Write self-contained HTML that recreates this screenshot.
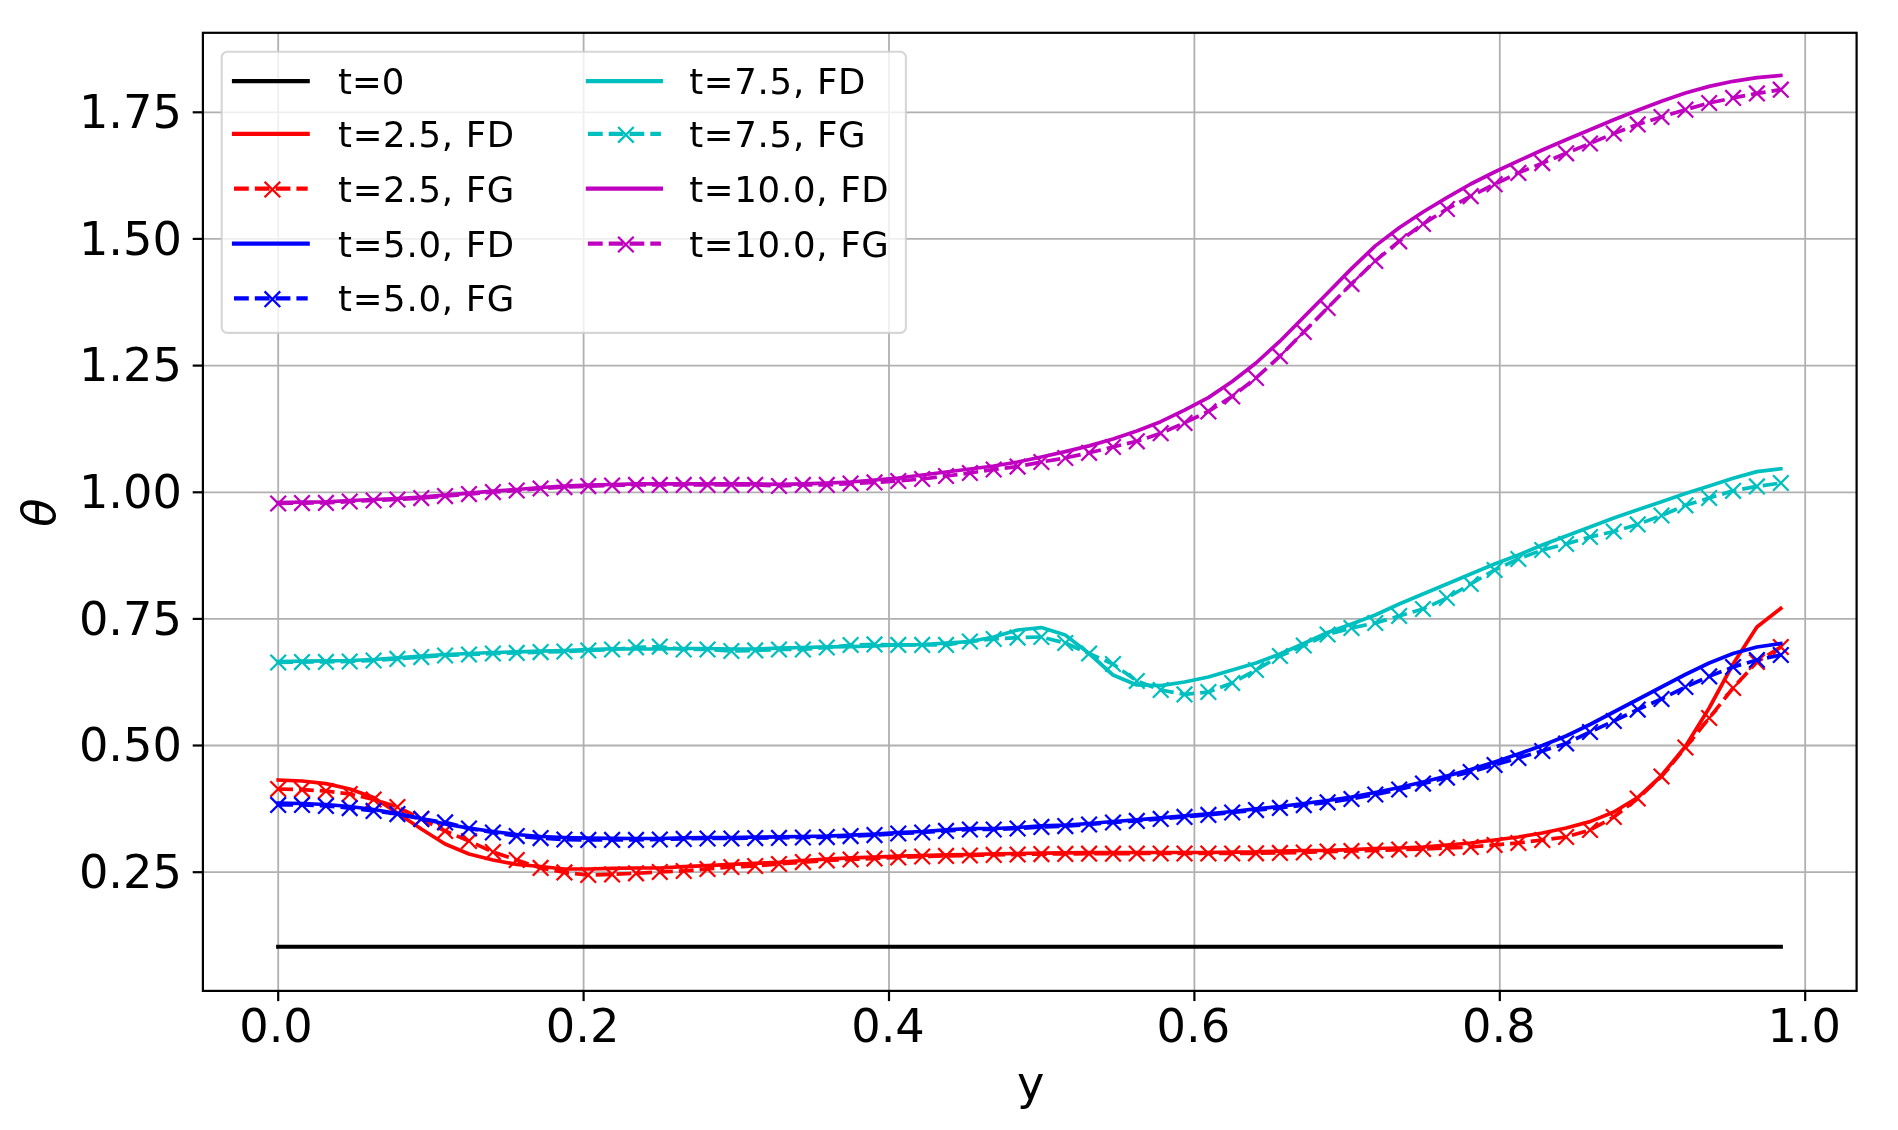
<!DOCTYPE html>
<html lang="en"><head><meta charset="utf-8"><title>theta vs y</title>
<style>html,body{margin:0;padding:0;background:#fff}svg{display:block;filter:blur(0.55px)}text{font-family:"DejaVu Sans", "Liberation Sans", sans-serif;fill:#000}</style></head><body>
<svg width="1898" height="1130" viewBox="0 0 1898 1130">
<rect width="1898" height="1130" fill="#fff"/>
<g stroke="#b0b0b0" stroke-width="1.8" fill="none">
<line x1="278.2" y1="32.8" x2="278.2" y2="990.9"/>
<line x1="583.6" y1="32.8" x2="583.6" y2="990.9"/>
<line x1="889.0" y1="32.8" x2="889.0" y2="990.9"/>
<line x1="1194.4" y1="32.8" x2="1194.4" y2="990.9"/>
<line x1="1499.8" y1="32.8" x2="1499.8" y2="990.9"/>
<line x1="1805.2" y1="32.8" x2="1805.2" y2="990.9"/>
<line x1="202.9" y1="112.3" x2="1856.6" y2="112.3"/>
<line x1="202.9" y1="238.9" x2="1856.6" y2="238.9"/>
<line x1="202.9" y1="365.6" x2="1856.6" y2="365.6"/>
<line x1="202.9" y1="492.3" x2="1856.6" y2="492.3"/>
<line x1="202.9" y1="618.9" x2="1856.6" y2="618.9"/>
<line x1="202.9" y1="745.5" x2="1856.6" y2="745.5"/>
<line x1="202.9" y1="872.2" x2="1856.6" y2="872.2"/>
</g>
<g stroke="#000" stroke-width="2.2" fill="none">
<line x1="278.2" y1="990.9" x2="278.2" y2="1001.1"/>
<line x1="583.6" y1="990.9" x2="583.6" y2="1001.1"/>
<line x1="889.0" y1="990.9" x2="889.0" y2="1001.1"/>
<line x1="1194.4" y1="990.9" x2="1194.4" y2="1001.1"/>
<line x1="1499.8" y1="990.9" x2="1499.8" y2="1001.1"/>
<line x1="1805.2" y1="990.9" x2="1805.2" y2="1001.1"/>
<line x1="192.7" y1="112.3" x2="202.9" y2="112.3"/>
<line x1="192.7" y1="238.9" x2="202.9" y2="238.9"/>
<line x1="192.7" y1="365.6" x2="202.9" y2="365.6"/>
<line x1="192.7" y1="492.3" x2="202.9" y2="492.3"/>
<line x1="192.7" y1="618.9" x2="202.9" y2="618.9"/>
<line x1="192.7" y1="745.5" x2="202.9" y2="745.5"/>
<line x1="192.7" y1="872.2" x2="202.9" y2="872.2"/>
</g>
<line x1="278.2" y1="946.75" x2="1780.8" y2="946.75" stroke="#000" stroke-width="4.2" stroke-linecap="square"/>
<polyline points="278.2,780.0 302.1,781.0 325.9,783.6 349.8,789.0 373.6,797.5 397.4,813.0 421.3,829.0 445.1,844.0 469.0,854.0 492.9,860.0 516.7,864.4 540.5,866.5 564.4,869.0 588.2,869.0 612.1,868.4 636.0,868.0 659.8,868.0 683.7,866.6 707.5,865.6 731.4,864.4 755.2,863.4 779.0,862.4 802.9,860.5 826.8,859.1 850.6,857.9 874.5,857.1 898.3,856.1 922.2,855.5 946.0,854.9 969.9,854.5 993.7,853.9 1017.5,853.5 1041.4,853.1 1065.2,852.9 1089.1,852.7 1113.0,852.7 1136.8,852.5 1160.7,852.5 1184.5,852.5 1208.4,852.5 1232.2,852.1 1256.0,851.9 1279.9,851.1 1303.8,850.5 1327.6,850.4 1351.5,849.6 1375.3,848.5 1399.2,848.0 1423.0,847.0 1446.9,845.0 1470.7,843.0 1494.6,840.0 1518.4,837.0 1542.3,833.0 1566.1,828.0 1590.0,821.6 1613.8,812.0 1637.7,797.5 1661.5,775.5 1685.4,746.5 1709.2,708.0 1733.1,664.0 1756.9,627.0 1780.8,608.4" fill="none" stroke="#f00" stroke-width="3.7" stroke-linecap="square" stroke-linejoin="round"/>
<polyline points="278.2,789.0 302.1,789.6 325.9,791.0 349.8,794.0 373.6,799.5 397.4,807.0 421.3,819.0 445.1,831.0 469.0,841.0 492.9,852.0 516.7,860.0 540.5,867.9 564.4,872.4 588.2,875.0 612.1,874.4 636.0,873.3 659.8,872.0 683.7,871.0 707.5,869.0 731.4,867.0 755.2,866.0 779.0,864.0 802.9,862.1 826.8,860.5 850.6,859.5 874.5,858.5 898.3,857.5 922.2,856.5 946.0,855.9 969.9,855.5 993.7,854.9 1017.5,854.5 1041.4,854.1 1065.2,853.9 1089.1,853.7 1113.0,853.7 1136.8,853.5 1160.7,853.5 1184.5,853.5 1208.4,853.5 1232.2,853.5 1256.0,853.3 1279.9,852.9 1303.8,852.5 1327.6,851.6 1351.5,851.0 1375.3,850.5 1399.2,849.6 1423.0,849.0 1446.9,848.0 1470.7,847.0 1494.6,845.0 1518.4,843.0 1542.3,840.0 1566.1,837.0 1590.0,830.0 1613.8,817.0 1637.7,798.5 1661.5,776.5 1685.4,747.5 1709.2,718.0 1733.1,688.0 1756.9,662.0 1780.8,647.0" fill="none" stroke="#f00" stroke-width="3.7" stroke-dasharray="14.8 6" stroke-linejoin="round"/>
<g stroke="#f00" stroke-width="2.3" fill="none"><path d="M270.4 781.2l15.6 15.6M270.4 796.8l15.6 -15.6"/><path d="M294.2 781.8l15.6 15.6M294.2 797.4l15.6 -15.6"/><path d="M318.1 783.2l15.6 15.6M318.1 798.8l15.6 -15.6"/><path d="M341.9 786.2l15.6 15.6M341.9 801.8l15.6 -15.6"/><path d="M365.8 791.7l15.6 15.6M365.8 807.3l15.6 -15.6"/><path d="M389.6 799.2l15.6 15.6M389.6 814.8l15.6 -15.6"/><path d="M413.5 811.2l15.6 15.6M413.5 826.8l15.6 -15.6"/><path d="M437.3 823.2l15.6 15.6M437.3 838.8l15.6 -15.6"/><path d="M461.2 833.2l15.6 15.6M461.2 848.8l15.6 -15.6"/><path d="M485.1 844.2l15.6 15.6M485.1 859.8l15.6 -15.6"/><path d="M508.9 852.2l15.6 15.6M508.9 867.8l15.6 -15.6"/><path d="M532.8 860.1l15.6 15.6M532.8 875.7l15.6 -15.6"/><path d="M556.6 864.6l15.6 15.6M556.6 880.2l15.6 -15.6"/><path d="M580.5 867.2l15.6 15.6M580.5 882.8l15.6 -15.6"/><path d="M604.3 866.6l15.6 15.6M604.3 882.2l15.6 -15.6"/><path d="M628.2 865.5l15.6 15.6M628.2 881.1l15.6 -15.6"/><path d="M652.0 864.2l15.6 15.6M652.0 879.8l15.6 -15.6"/><path d="M675.9 863.2l15.6 15.6M675.9 878.8l15.6 -15.6"/><path d="M699.7 861.2l15.6 15.6M699.7 876.8l15.6 -15.6"/><path d="M723.6 859.2l15.6 15.6M723.6 874.8l15.6 -15.6"/><path d="M747.4 858.2l15.6 15.6M747.4 873.8l15.6 -15.6"/><path d="M771.2 856.2l15.6 15.6M771.2 871.8l15.6 -15.6"/><path d="M795.1 854.3l15.6 15.6M795.1 869.9l15.6 -15.6"/><path d="M819.0 852.7l15.6 15.6M819.0 868.3l15.6 -15.6"/><path d="M842.8 851.7l15.6 15.6M842.8 867.3l15.6 -15.6"/><path d="M866.7 850.7l15.6 15.6M866.7 866.3l15.6 -15.6"/><path d="M890.5 849.7l15.6 15.6M890.5 865.3l15.6 -15.6"/><path d="M914.4 848.7l15.6 15.6M914.4 864.3l15.6 -15.6"/><path d="M938.2 848.1l15.6 15.6M938.2 863.7l15.6 -15.6"/><path d="M962.1 847.7l15.6 15.6M962.1 863.3l15.6 -15.6"/><path d="M985.9 847.1l15.6 15.6M985.9 862.7l15.6 -15.6"/><path d="M1009.8 846.7l15.6 15.6M1009.8 862.3l15.6 -15.6"/><path d="M1033.6 846.3l15.6 15.6M1033.6 861.9l15.6 -15.6"/><path d="M1057.5 846.1l15.6 15.6M1057.5 861.7l15.6 -15.6"/><path d="M1081.3 845.9l15.6 15.6M1081.3 861.5l15.6 -15.6"/><path d="M1105.2 845.9l15.6 15.6M1105.2 861.5l15.6 -15.6"/><path d="M1129.0 845.7l15.6 15.6M1129.0 861.3l15.6 -15.6"/><path d="M1152.9 845.7l15.6 15.6M1152.9 861.3l15.6 -15.6"/><path d="M1176.7 845.7l15.6 15.6M1176.7 861.3l15.6 -15.6"/><path d="M1200.6 845.7l15.6 15.6M1200.6 861.3l15.6 -15.6"/><path d="M1224.4 845.7l15.6 15.6M1224.4 861.3l15.6 -15.6"/><path d="M1248.2 845.5l15.6 15.6M1248.2 861.1l15.6 -15.6"/><path d="M1272.1 845.1l15.6 15.6M1272.1 860.7l15.6 -15.6"/><path d="M1296.0 844.7l15.6 15.6M1296.0 860.3l15.6 -15.6"/><path d="M1319.8 843.8l15.6 15.6M1319.8 859.4l15.6 -15.6"/><path d="M1343.7 843.2l15.6 15.6M1343.7 858.8l15.6 -15.6"/><path d="M1367.5 842.7l15.6 15.6M1367.5 858.3l15.6 -15.6"/><path d="M1391.4 841.8l15.6 15.6M1391.4 857.4l15.6 -15.6"/><path d="M1415.2 841.2l15.6 15.6M1415.2 856.8l15.6 -15.6"/><path d="M1439.1 840.2l15.6 15.6M1439.1 855.8l15.6 -15.6"/><path d="M1462.9 839.2l15.6 15.6M1462.9 854.8l15.6 -15.6"/><path d="M1486.8 837.2l15.6 15.6M1486.8 852.8l15.6 -15.6"/><path d="M1510.6 835.2l15.6 15.6M1510.6 850.8l15.6 -15.6"/><path d="M1534.5 832.2l15.6 15.6M1534.5 847.8l15.6 -15.6"/><path d="M1558.3 829.2l15.6 15.6M1558.3 844.8l15.6 -15.6"/><path d="M1582.2 822.2l15.6 15.6M1582.2 837.8l15.6 -15.6"/><path d="M1606.0 809.2l15.6 15.6M1606.0 824.8l15.6 -15.6"/><path d="M1629.9 790.7l15.6 15.6M1629.9 806.3l15.6 -15.6"/><path d="M1653.7 768.7l15.6 15.6M1653.7 784.3l15.6 -15.6"/><path d="M1677.6 739.7l15.6 15.6M1677.6 755.3l15.6 -15.6"/><path d="M1701.4 710.2l15.6 15.6M1701.4 725.8l15.6 -15.6"/><path d="M1725.3 680.2l15.6 15.6M1725.3 695.8l15.6 -15.6"/><path d="M1749.1 654.2l15.6 15.6M1749.1 669.8l15.6 -15.6"/><path d="M1773.0 639.2l15.6 15.6M1773.0 654.8l15.6 -15.6"/></g>
<polyline points="278.2,803.1 302.1,803.5 325.9,804.5 349.8,806.5 373.6,809.5 397.4,813.5 421.3,818.5 445.1,824.0 469.0,828.1 492.9,831.5 516.7,834.5 540.5,836.5 564.4,837.5 588.2,838.1 612.1,838.3 636.0,838.5 659.8,838.5 683.7,837.9 707.5,837.5 731.4,837.5 755.2,837.1 779.0,836.9 802.9,836.5 826.8,836.1 850.6,835.1 874.5,834.1 898.3,832.5 922.2,831.5 946.0,829.9 969.9,828.5 993.7,828.5 1017.5,827.5 1041.4,825.9 1065.2,825.1 1089.1,823.5 1113.0,821.5 1136.8,819.9 1160.7,817.9 1184.5,815.9 1208.4,813.9 1232.2,811.5 1256.0,808.9 1279.9,806.5 1303.8,803.5 1327.6,800.5 1351.5,797.0 1375.3,792.5 1399.2,787.5 1423.0,782.0 1446.9,776.0 1470.7,769.6 1494.6,762.0 1518.4,754.0 1542.3,745.5 1566.1,736.0 1590.0,724.5 1613.8,712.0 1637.7,699.5 1661.5,687.0 1685.4,674.5 1709.2,663.0 1733.1,653.5 1756.9,647.0 1780.8,643.5" fill="none" stroke="#00f" stroke-width="3.7" stroke-linecap="square" stroke-linejoin="round"/>
<polyline points="278.2,804.9 302.1,804.9 325.9,805.9 349.8,808.1 373.6,810.9 397.4,814.1 421.3,818.9 445.1,822.4 469.0,828.5 492.9,832.5 516.7,836.1 540.5,838.1 564.4,839.5 588.2,839.9 612.1,839.9 636.0,839.9 659.8,839.5 683.7,838.9 707.5,838.5 731.4,838.5 755.2,838.1 779.0,837.9 802.9,837.5 826.8,837.1 850.6,836.1 874.5,835.1 898.3,833.5 922.2,832.5 946.0,830.9 969.9,829.5 993.7,829.5 1017.5,828.5 1041.4,826.9 1065.2,826.1 1089.1,824.5 1113.0,822.5 1136.8,820.9 1160.7,818.9 1184.5,816.9 1208.4,814.9 1232.2,812.5 1256.0,810.1 1279.9,807.9 1303.8,805.1 1327.6,802.3 1351.5,799.0 1375.3,794.5 1399.2,789.5 1423.0,783.6 1446.9,777.6 1470.7,772.0 1494.6,765.0 1518.4,758.0 1542.3,751.0 1566.1,743.5 1590.0,732.0 1613.8,721.0 1637.7,709.6 1661.5,699.0 1685.4,687.0 1709.2,676.4 1733.1,667.0 1756.9,660.0 1780.8,655.0" fill="none" stroke="#00f" stroke-width="3.7" stroke-dasharray="14.8 6" stroke-linejoin="round"/>
<g stroke="#00f" stroke-width="2.3" fill="none"><path d="M270.4 797.1l15.6 15.6M270.4 812.7l15.6 -15.6"/><path d="M294.2 797.1l15.6 15.6M294.2 812.7l15.6 -15.6"/><path d="M318.1 798.1l15.6 15.6M318.1 813.7l15.6 -15.6"/><path d="M341.9 800.3l15.6 15.6M341.9 815.9l15.6 -15.6"/><path d="M365.8 803.1l15.6 15.6M365.8 818.7l15.6 -15.6"/><path d="M389.6 806.3l15.6 15.6M389.6 821.9l15.6 -15.6"/><path d="M413.5 811.1l15.6 15.6M413.5 826.7l15.6 -15.6"/><path d="M437.3 814.6l15.6 15.6M437.3 830.2l15.6 -15.6"/><path d="M461.2 820.7l15.6 15.6M461.2 836.3l15.6 -15.6"/><path d="M485.1 824.7l15.6 15.6M485.1 840.3l15.6 -15.6"/><path d="M508.9 828.3l15.6 15.6M508.9 843.9l15.6 -15.6"/><path d="M532.8 830.3l15.6 15.6M532.8 845.9l15.6 -15.6"/><path d="M556.6 831.7l15.6 15.6M556.6 847.3l15.6 -15.6"/><path d="M580.5 832.1l15.6 15.6M580.5 847.7l15.6 -15.6"/><path d="M604.3 832.1l15.6 15.6M604.3 847.7l15.6 -15.6"/><path d="M628.2 832.1l15.6 15.6M628.2 847.7l15.6 -15.6"/><path d="M652.0 831.7l15.6 15.6M652.0 847.3l15.6 -15.6"/><path d="M675.9 831.1l15.6 15.6M675.9 846.7l15.6 -15.6"/><path d="M699.7 830.7l15.6 15.6M699.7 846.3l15.6 -15.6"/><path d="M723.6 830.7l15.6 15.6M723.6 846.3l15.6 -15.6"/><path d="M747.4 830.3l15.6 15.6M747.4 845.9l15.6 -15.6"/><path d="M771.2 830.1l15.6 15.6M771.2 845.7l15.6 -15.6"/><path d="M795.1 829.7l15.6 15.6M795.1 845.3l15.6 -15.6"/><path d="M819.0 829.3l15.6 15.6M819.0 844.9l15.6 -15.6"/><path d="M842.8 828.3l15.6 15.6M842.8 843.9l15.6 -15.6"/><path d="M866.7 827.3l15.6 15.6M866.7 842.9l15.6 -15.6"/><path d="M890.5 825.7l15.6 15.6M890.5 841.3l15.6 -15.6"/><path d="M914.4 824.7l15.6 15.6M914.4 840.3l15.6 -15.6"/><path d="M938.2 823.1l15.6 15.6M938.2 838.7l15.6 -15.6"/><path d="M962.1 821.7l15.6 15.6M962.1 837.3l15.6 -15.6"/><path d="M985.9 821.7l15.6 15.6M985.9 837.3l15.6 -15.6"/><path d="M1009.8 820.7l15.6 15.6M1009.8 836.3l15.6 -15.6"/><path d="M1033.6 819.1l15.6 15.6M1033.6 834.7l15.6 -15.6"/><path d="M1057.5 818.3l15.6 15.6M1057.5 833.9l15.6 -15.6"/><path d="M1081.3 816.7l15.6 15.6M1081.3 832.3l15.6 -15.6"/><path d="M1105.2 814.7l15.6 15.6M1105.2 830.3l15.6 -15.6"/><path d="M1129.0 813.1l15.6 15.6M1129.0 828.7l15.6 -15.6"/><path d="M1152.9 811.1l15.6 15.6M1152.9 826.7l15.6 -15.6"/><path d="M1176.7 809.1l15.6 15.6M1176.7 824.7l15.6 -15.6"/><path d="M1200.6 807.1l15.6 15.6M1200.6 822.7l15.6 -15.6"/><path d="M1224.4 804.7l15.6 15.6M1224.4 820.3l15.6 -15.6"/><path d="M1248.2 802.3l15.6 15.6M1248.2 817.9l15.6 -15.6"/><path d="M1272.1 800.1l15.6 15.6M1272.1 815.7l15.6 -15.6"/><path d="M1296.0 797.3l15.6 15.6M1296.0 812.9l15.6 -15.6"/><path d="M1319.8 794.5l15.6 15.6M1319.8 810.1l15.6 -15.6"/><path d="M1343.7 791.2l15.6 15.6M1343.7 806.8l15.6 -15.6"/><path d="M1367.5 786.7l15.6 15.6M1367.5 802.3l15.6 -15.6"/><path d="M1391.4 781.7l15.6 15.6M1391.4 797.3l15.6 -15.6"/><path d="M1415.2 775.8l15.6 15.6M1415.2 791.4l15.6 -15.6"/><path d="M1439.1 769.8l15.6 15.6M1439.1 785.4l15.6 -15.6"/><path d="M1462.9 764.2l15.6 15.6M1462.9 779.8l15.6 -15.6"/><path d="M1486.8 757.2l15.6 15.6M1486.8 772.8l15.6 -15.6"/><path d="M1510.6 750.2l15.6 15.6M1510.6 765.8l15.6 -15.6"/><path d="M1534.5 743.2l15.6 15.6M1534.5 758.8l15.6 -15.6"/><path d="M1558.3 735.7l15.6 15.6M1558.3 751.3l15.6 -15.6"/><path d="M1582.2 724.2l15.6 15.6M1582.2 739.8l15.6 -15.6"/><path d="M1606.0 713.2l15.6 15.6M1606.0 728.8l15.6 -15.6"/><path d="M1629.9 701.8l15.6 15.6M1629.9 717.4l15.6 -15.6"/><path d="M1653.7 691.2l15.6 15.6M1653.7 706.8l15.6 -15.6"/><path d="M1677.6 679.2l15.6 15.6M1677.6 694.8l15.6 -15.6"/><path d="M1701.4 668.6l15.6 15.6M1701.4 684.2l15.6 -15.6"/><path d="M1725.3 659.2l15.6 15.6M1725.3 674.8l15.6 -15.6"/><path d="M1749.1 652.2l15.6 15.6M1749.1 667.8l15.6 -15.6"/><path d="M1773.0 647.2l15.6 15.6M1773.0 662.8l15.6 -15.6"/></g>
<polyline points="278.2,661.5 302.1,661.1 325.9,660.9 349.8,660.5 373.6,659.5 397.4,657.9 421.3,656.1 445.1,654.5 469.0,653.5 492.9,652.5 516.7,651.9 540.5,651.1 564.4,650.5 588.2,649.5 612.1,648.9 636.0,649.0 659.8,649.0 683.7,648.5 707.5,648.5 731.4,649.0 755.2,649.0 779.0,648.1 802.9,647.5 826.8,646.9 850.6,646.6 874.5,646.0 898.3,644.9 922.2,644.5 946.0,643.1 969.9,641.5 993.7,637.0 1017.5,630.0 1041.4,627.6 1065.2,635.0 1089.1,653.5 1113.0,675.0 1136.8,685.0 1160.7,685.6 1184.5,682.0 1208.4,677.0 1232.2,670.0 1256.0,663.0 1279.9,654.0 1303.8,643.5 1327.6,632.5 1351.5,624.0 1375.3,615.0 1399.2,604.0 1423.0,594.0 1446.9,584.0 1470.7,574.0 1494.6,564.0 1518.4,555.0 1542.3,545.0 1566.1,536.0 1590.0,527.0 1613.8,518.0 1637.7,509.7 1661.5,501.7 1685.4,493.5 1709.2,486.0 1733.1,478.3 1756.9,471.6 1780.8,468.7" fill="none" stroke="#00bfbf" stroke-width="3.7" stroke-linecap="square" stroke-linejoin="round"/>
<polyline points="278.2,662.5 302.1,662.1 325.9,661.9 349.8,661.5 373.6,660.5 397.4,658.9 421.3,657.1 445.1,655.5 469.0,654.5 492.9,653.5 516.7,652.9 540.5,652.1 564.4,651.5 588.2,650.5 612.1,649.5 636.0,647.3 659.8,646.6 683.7,649.5 707.5,649.5 731.4,651.0 755.2,650.4 779.0,649.5 802.9,649.5 826.8,647.5 850.6,645.0 874.5,644.4 898.3,644.9 922.2,644.9 946.0,644.9 969.9,641.5 993.7,639.0 1017.5,637.6 1041.4,637.0 1065.2,643.0 1089.1,653.5 1113.0,664.0 1136.8,681.0 1160.7,690.0 1184.5,694.4 1208.4,692.0 1232.2,683.0 1256.0,670.0 1279.9,656.0 1303.8,645.5 1327.6,634.5 1351.5,628.0 1375.3,623.0 1399.2,616.0 1423.0,609.0 1446.9,598.0 1470.7,584.0 1494.6,570.0 1518.4,559.0 1542.3,550.0 1566.1,544.0 1590.0,537.0 1613.8,531.5 1637.7,524.4 1661.5,515.5 1685.4,505.3 1709.2,498.0 1733.1,490.8 1756.9,486.4 1780.8,483.0" fill="none" stroke="#00bfbf" stroke-width="3.7" stroke-dasharray="14.8 6" stroke-linejoin="round"/>
<g stroke="#00bfbf" stroke-width="2.3" fill="none"><path d="M270.4 654.7l15.6 15.6M270.4 670.3l15.6 -15.6"/><path d="M294.2 654.3l15.6 15.6M294.2 669.9l15.6 -15.6"/><path d="M318.1 654.1l15.6 15.6M318.1 669.7l15.6 -15.6"/><path d="M341.9 653.7l15.6 15.6M341.9 669.3l15.6 -15.6"/><path d="M365.8 652.7l15.6 15.6M365.8 668.3l15.6 -15.6"/><path d="M389.6 651.1l15.6 15.6M389.6 666.7l15.6 -15.6"/><path d="M413.5 649.3l15.6 15.6M413.5 664.9l15.6 -15.6"/><path d="M437.3 647.7l15.6 15.6M437.3 663.3l15.6 -15.6"/><path d="M461.2 646.7l15.6 15.6M461.2 662.3l15.6 -15.6"/><path d="M485.1 645.7l15.6 15.6M485.1 661.3l15.6 -15.6"/><path d="M508.9 645.1l15.6 15.6M508.9 660.7l15.6 -15.6"/><path d="M532.8 644.3l15.6 15.6M532.8 659.9l15.6 -15.6"/><path d="M556.6 643.7l15.6 15.6M556.6 659.3l15.6 -15.6"/><path d="M580.5 642.7l15.6 15.6M580.5 658.3l15.6 -15.6"/><path d="M604.3 641.7l15.6 15.6M604.3 657.3l15.6 -15.6"/><path d="M628.2 639.5l15.6 15.6M628.2 655.1l15.6 -15.6"/><path d="M652.0 638.8l15.6 15.6M652.0 654.4l15.6 -15.6"/><path d="M675.9 641.7l15.6 15.6M675.9 657.3l15.6 -15.6"/><path d="M699.7 641.7l15.6 15.6M699.7 657.3l15.6 -15.6"/><path d="M723.6 643.2l15.6 15.6M723.6 658.8l15.6 -15.6"/><path d="M747.4 642.6l15.6 15.6M747.4 658.2l15.6 -15.6"/><path d="M771.2 641.7l15.6 15.6M771.2 657.3l15.6 -15.6"/><path d="M795.1 641.7l15.6 15.6M795.1 657.3l15.6 -15.6"/><path d="M819.0 639.7l15.6 15.6M819.0 655.3l15.6 -15.6"/><path d="M842.8 637.2l15.6 15.6M842.8 652.8l15.6 -15.6"/><path d="M866.7 636.6l15.6 15.6M866.7 652.2l15.6 -15.6"/><path d="M890.5 637.1l15.6 15.6M890.5 652.7l15.6 -15.6"/><path d="M914.4 637.1l15.6 15.6M914.4 652.7l15.6 -15.6"/><path d="M938.2 637.1l15.6 15.6M938.2 652.7l15.6 -15.6"/><path d="M962.1 633.7l15.6 15.6M962.1 649.3l15.6 -15.6"/><path d="M985.9 631.2l15.6 15.6M985.9 646.8l15.6 -15.6"/><path d="M1009.8 629.8l15.6 15.6M1009.8 645.4l15.6 -15.6"/><path d="M1033.6 629.2l15.6 15.6M1033.6 644.8l15.6 -15.6"/><path d="M1057.5 635.2l15.6 15.6M1057.5 650.8l15.6 -15.6"/><path d="M1081.3 645.7l15.6 15.6M1081.3 661.3l15.6 -15.6"/><path d="M1105.2 656.2l15.6 15.6M1105.2 671.8l15.6 -15.6"/><path d="M1129.0 673.2l15.6 15.6M1129.0 688.8l15.6 -15.6"/><path d="M1152.9 682.2l15.6 15.6M1152.9 697.8l15.6 -15.6"/><path d="M1176.7 686.6l15.6 15.6M1176.7 702.2l15.6 -15.6"/><path d="M1200.6 684.2l15.6 15.6M1200.6 699.8l15.6 -15.6"/><path d="M1224.4 675.2l15.6 15.6M1224.4 690.8l15.6 -15.6"/><path d="M1248.2 662.2l15.6 15.6M1248.2 677.8l15.6 -15.6"/><path d="M1272.1 648.2l15.6 15.6M1272.1 663.8l15.6 -15.6"/><path d="M1296.0 637.7l15.6 15.6M1296.0 653.3l15.6 -15.6"/><path d="M1319.8 626.7l15.6 15.6M1319.8 642.3l15.6 -15.6"/><path d="M1343.7 620.2l15.6 15.6M1343.7 635.8l15.6 -15.6"/><path d="M1367.5 615.2l15.6 15.6M1367.5 630.8l15.6 -15.6"/><path d="M1391.4 608.2l15.6 15.6M1391.4 623.8l15.6 -15.6"/><path d="M1415.2 601.2l15.6 15.6M1415.2 616.8l15.6 -15.6"/><path d="M1439.1 590.2l15.6 15.6M1439.1 605.8l15.6 -15.6"/><path d="M1462.9 576.2l15.6 15.6M1462.9 591.8l15.6 -15.6"/><path d="M1486.8 562.2l15.6 15.6M1486.8 577.8l15.6 -15.6"/><path d="M1510.6 551.2l15.6 15.6M1510.6 566.8l15.6 -15.6"/><path d="M1534.5 542.2l15.6 15.6M1534.5 557.8l15.6 -15.6"/><path d="M1558.3 536.2l15.6 15.6M1558.3 551.8l15.6 -15.6"/><path d="M1582.2 529.2l15.6 15.6M1582.2 544.8l15.6 -15.6"/><path d="M1606.0 523.7l15.6 15.6M1606.0 539.3l15.6 -15.6"/><path d="M1629.9 516.6l15.6 15.6M1629.9 532.2l15.6 -15.6"/><path d="M1653.7 507.7l15.6 15.6M1653.7 523.3l15.6 -15.6"/><path d="M1677.6 497.5l15.6 15.6M1677.6 513.1l15.6 -15.6"/><path d="M1701.4 490.2l15.6 15.6M1701.4 505.8l15.6 -15.6"/><path d="M1725.3 483.0l15.6 15.6M1725.3 498.6l15.6 -15.6"/><path d="M1749.1 478.6l15.6 15.6M1749.1 494.2l15.6 -15.6"/><path d="M1773.0 475.2l15.6 15.6M1773.0 490.8l15.6 -15.6"/></g>
<polyline points="278.2,502.5 302.1,502.1 325.9,501.9 349.8,500.5 373.6,499.5 397.4,498.5 421.3,497.1 445.1,495.1 469.0,493.1 492.9,491.1 516.7,489.5 540.5,487.5 564.4,486.1 588.2,485.1 612.1,484.5 636.0,483.9 659.8,483.9 683.7,483.9 707.5,483.9 731.4,483.9 755.2,483.9 779.0,484.4 802.9,483.9 826.8,483.1 850.6,482.0 874.5,480.0 898.3,478.0 922.2,475.0 946.0,472.0 969.9,469.0 993.7,466.0 1017.5,462.0 1041.4,457.0 1065.2,451.6 1089.1,445.9 1113.0,439.0 1136.8,431.0 1160.7,421.7 1184.5,410.2 1208.4,397.6 1232.2,381.5 1256.0,363.0 1279.9,341.2 1303.8,317.0 1327.6,293.0 1351.5,268.6 1375.3,245.9 1399.2,227.8 1423.0,212.0 1446.9,197.7 1470.7,184.0 1494.6,172.0 1518.4,160.8 1542.3,150.0 1566.1,139.8 1590.0,129.8 1613.8,119.8 1637.7,110.2 1661.5,101.2 1685.4,93.0 1709.2,86.4 1733.1,81.3 1756.9,77.6 1780.8,75.4" fill="none" stroke="#bf00bf" stroke-width="3.7" stroke-linecap="square" stroke-linejoin="round"/>
<polyline points="278.2,503.5 302.1,503.1 325.9,502.9 349.8,501.5 373.6,500.5 397.4,499.5 421.3,498.1 445.1,496.1 469.0,494.1 492.9,492.1 516.7,490.5 540.5,488.5 564.4,487.1 588.2,486.1 612.1,485.5 636.0,484.9 659.8,484.9 683.7,484.9 707.5,484.9 731.4,484.9 755.2,484.9 779.0,486.0 802.9,484.9 826.8,484.9 850.6,483.6 874.5,482.4 898.3,481.0 922.2,479.0 946.0,476.0 969.9,473.0 993.7,469.5 1017.5,466.6 1041.4,462.0 1065.2,458.0 1089.1,452.8 1113.0,447.0 1136.8,441.3 1160.7,433.2 1184.5,422.9 1208.4,411.4 1232.2,396.4 1256.0,378.0 1279.9,356.2 1303.8,332.0 1327.6,307.9 1351.5,283.9 1375.3,260.9 1399.2,241.3 1423.0,224.0 1446.9,209.0 1470.7,196.2 1494.6,184.2 1518.4,172.9 1542.3,163.1 1566.1,153.3 1590.0,143.5 1613.8,133.5 1637.7,124.4 1661.5,117.0 1685.4,109.7 1709.2,103.0 1733.1,97.9 1756.9,93.4 1780.8,89.7" fill="none" stroke="#bf00bf" stroke-width="3.7" stroke-dasharray="14.8 6" stroke-linejoin="round"/>
<g stroke="#bf00bf" stroke-width="2.3" fill="none"><path d="M270.4 495.7l15.6 15.6M270.4 511.3l15.6 -15.6"/><path d="M294.2 495.3l15.6 15.6M294.2 510.9l15.6 -15.6"/><path d="M318.1 495.1l15.6 15.6M318.1 510.7l15.6 -15.6"/><path d="M341.9 493.7l15.6 15.6M341.9 509.3l15.6 -15.6"/><path d="M365.8 492.7l15.6 15.6M365.8 508.3l15.6 -15.6"/><path d="M389.6 491.7l15.6 15.6M389.6 507.3l15.6 -15.6"/><path d="M413.5 490.3l15.6 15.6M413.5 505.9l15.6 -15.6"/><path d="M437.3 488.3l15.6 15.6M437.3 503.9l15.6 -15.6"/><path d="M461.2 486.3l15.6 15.6M461.2 501.9l15.6 -15.6"/><path d="M485.1 484.3l15.6 15.6M485.1 499.9l15.6 -15.6"/><path d="M508.9 482.7l15.6 15.6M508.9 498.3l15.6 -15.6"/><path d="M532.8 480.7l15.6 15.6M532.8 496.3l15.6 -15.6"/><path d="M556.6 479.3l15.6 15.6M556.6 494.9l15.6 -15.6"/><path d="M580.5 478.3l15.6 15.6M580.5 493.9l15.6 -15.6"/><path d="M604.3 477.7l15.6 15.6M604.3 493.3l15.6 -15.6"/><path d="M628.2 477.1l15.6 15.6M628.2 492.7l15.6 -15.6"/><path d="M652.0 477.1l15.6 15.6M652.0 492.7l15.6 -15.6"/><path d="M675.9 477.1l15.6 15.6M675.9 492.7l15.6 -15.6"/><path d="M699.7 477.1l15.6 15.6M699.7 492.7l15.6 -15.6"/><path d="M723.6 477.1l15.6 15.6M723.6 492.7l15.6 -15.6"/><path d="M747.4 477.1l15.6 15.6M747.4 492.7l15.6 -15.6"/><path d="M771.2 478.2l15.6 15.6M771.2 493.8l15.6 -15.6"/><path d="M795.1 477.1l15.6 15.6M795.1 492.7l15.6 -15.6"/><path d="M819.0 477.1l15.6 15.6M819.0 492.7l15.6 -15.6"/><path d="M842.8 475.8l15.6 15.6M842.8 491.4l15.6 -15.6"/><path d="M866.7 474.6l15.6 15.6M866.7 490.2l15.6 -15.6"/><path d="M890.5 473.2l15.6 15.6M890.5 488.8l15.6 -15.6"/><path d="M914.4 471.2l15.6 15.6M914.4 486.8l15.6 -15.6"/><path d="M938.2 468.2l15.6 15.6M938.2 483.8l15.6 -15.6"/><path d="M962.1 465.2l15.6 15.6M962.1 480.8l15.6 -15.6"/><path d="M985.9 461.7l15.6 15.6M985.9 477.3l15.6 -15.6"/><path d="M1009.8 458.8l15.6 15.6M1009.8 474.4l15.6 -15.6"/><path d="M1033.6 454.2l15.6 15.6M1033.6 469.8l15.6 -15.6"/><path d="M1057.5 450.2l15.6 15.6M1057.5 465.8l15.6 -15.6"/><path d="M1081.3 445.0l15.6 15.6M1081.3 460.6l15.6 -15.6"/><path d="M1105.2 439.2l15.6 15.6M1105.2 454.8l15.6 -15.6"/><path d="M1129.0 433.5l15.6 15.6M1129.0 449.1l15.6 -15.6"/><path d="M1152.9 425.4l15.6 15.6M1152.9 441.0l15.6 -15.6"/><path d="M1176.7 415.1l15.6 15.6M1176.7 430.7l15.6 -15.6"/><path d="M1200.6 403.6l15.6 15.6M1200.6 419.2l15.6 -15.6"/><path d="M1224.4 388.6l15.6 15.6M1224.4 404.2l15.6 -15.6"/><path d="M1248.2 370.2l15.6 15.6M1248.2 385.8l15.6 -15.6"/><path d="M1272.1 348.4l15.6 15.6M1272.1 364.0l15.6 -15.6"/><path d="M1296.0 324.2l15.6 15.6M1296.0 339.8l15.6 -15.6"/><path d="M1319.8 300.1l15.6 15.6M1319.8 315.7l15.6 -15.6"/><path d="M1343.7 276.1l15.6 15.6M1343.7 291.7l15.6 -15.6"/><path d="M1367.5 253.1l15.6 15.6M1367.5 268.7l15.6 -15.6"/><path d="M1391.4 233.5l15.6 15.6M1391.4 249.1l15.6 -15.6"/><path d="M1415.2 216.2l15.6 15.6M1415.2 231.8l15.6 -15.6"/><path d="M1439.1 201.2l15.6 15.6M1439.1 216.8l15.6 -15.6"/><path d="M1462.9 188.4l15.6 15.6M1462.9 204.0l15.6 -15.6"/><path d="M1486.8 176.4l15.6 15.6M1486.8 192.0l15.6 -15.6"/><path d="M1510.6 165.1l15.6 15.6M1510.6 180.7l15.6 -15.6"/><path d="M1534.5 155.3l15.6 15.6M1534.5 170.9l15.6 -15.6"/><path d="M1558.3 145.5l15.6 15.6M1558.3 161.1l15.6 -15.6"/><path d="M1582.2 135.7l15.6 15.6M1582.2 151.3l15.6 -15.6"/><path d="M1606.0 125.7l15.6 15.6M1606.0 141.3l15.6 -15.6"/><path d="M1629.9 116.6l15.6 15.6M1629.9 132.2l15.6 -15.6"/><path d="M1653.7 109.2l15.6 15.6M1653.7 124.8l15.6 -15.6"/><path d="M1677.6 101.9l15.6 15.6M1677.6 117.5l15.6 -15.6"/><path d="M1701.4 95.2l15.6 15.6M1701.4 110.8l15.6 -15.6"/><path d="M1725.3 90.1l15.6 15.6M1725.3 105.7l15.6 -15.6"/><path d="M1749.1 85.6l15.6 15.6M1749.1 101.2l15.6 -15.6"/><path d="M1773.0 81.9l15.6 15.6M1773.0 97.5l15.6 -15.6"/></g>
<rect x="202.9" y="32.8" width="1653.7" height="958.1" fill="none" stroke="#000" stroke-width="2.2"/>
<text x="276.0" y="1042.3" font-size="46.3" text-anchor="middle">0.0</text>
<text x="582.6" y="1042.3" font-size="46.3" text-anchor="middle">0.2</text>
<text x="888.0" y="1042.3" font-size="46.3" text-anchor="middle">0.4</text>
<text x="1193.4" y="1042.3" font-size="46.3" text-anchor="middle">0.6</text>
<text x="1498.8" y="1042.3" font-size="46.3" text-anchor="middle">0.8</text>
<text x="1804.2" y="1042.3" font-size="46.3" text-anchor="middle">1.0</text>
<text x="182.0" y="128.1" font-size="46.3" text-anchor="end">1.75</text>
<text x="182.0" y="254.8" font-size="46.3" text-anchor="end">1.50</text>
<text x="182.0" y="381.4" font-size="46.3" text-anchor="end">1.25</text>
<text x="182.0" y="508.1" font-size="46.3" text-anchor="end">1.00</text>
<text x="182.0" y="634.7" font-size="46.3" text-anchor="end">0.75</text>
<text x="182.0" y="761.3" font-size="46.3" text-anchor="end">0.50</text>
<text x="182.0" y="888.0" font-size="46.3" text-anchor="end">0.25</text>
<text x="1030.8" y="1098.5" font-size="46.3" text-anchor="middle">y</text>
<text transform="translate(54.9,512.7) rotate(-90)" font-size="46.3" font-style="italic" text-anchor="middle">θ</text>
<rect x="221.7" y="51.8" width="684.2" height="281.1" rx="5.5" fill="#fff" fill-opacity="0.8" stroke="#ccc" stroke-opacity="0.8" stroke-width="2.1"/>
<line x1="234.0" y1="81.1" x2="307.7" y2="81.1" stroke="#000" stroke-width="4.2" stroke-linecap="square"/>
<text x="338.0" y="94.1" font-size="35.5">t=0</text>
<line x1="234.0" y1="133.9" x2="307.7" y2="133.9" stroke="#f00" stroke-width="4.2" stroke-linecap="square"/>
<text x="338.0" y="146.9" font-size="35.5" letter-spacing="0.72">t=2.5, FD</text>
<line x1="234.0" y1="188.6" x2="307.7" y2="188.6" stroke="#f00" stroke-width="4.2" stroke-dasharray="14.8 6"/>
<g stroke="#f00" stroke-width="2.3" fill="none"><path d="M264.6 181.7l15.6 15.6M264.6 197.3l15.6 -15.6"/></g>
<text x="338.0" y="201.6" font-size="35.5" letter-spacing="0.72">t=2.5, FG</text>
<line x1="234.0" y1="243.6" x2="307.7" y2="243.6" stroke="#00f" stroke-width="4.2" stroke-linecap="square"/>
<text x="338.0" y="256.6" font-size="35.5" letter-spacing="0.72">t=5.0, FD</text>
<line x1="234.0" y1="298.3" x2="307.7" y2="298.3" stroke="#00f" stroke-width="4.2" stroke-dasharray="14.8 6"/>
<g stroke="#00f" stroke-width="2.3" fill="none"><path d="M264.6 291.4l15.6 15.6M264.6 307.0l15.6 -15.6"/></g>
<text x="338.0" y="311.3" font-size="35.5" letter-spacing="0.72">t=5.0, FG</text>
<line x1="587.9" y1="81.1" x2="660.9" y2="81.1" stroke="#00bfbf" stroke-width="4.2" stroke-linecap="square"/>
<text x="689.2" y="94.1" font-size="35.5" letter-spacing="0.72">t=7.5, FD</text>
<line x1="587.9" y1="133.9" x2="660.9" y2="133.9" stroke="#00bfbf" stroke-width="4.2" stroke-dasharray="14.8 6"/>
<g stroke="#00bfbf" stroke-width="2.3" fill="none"><path d="M618.1 127.0l15.6 15.6M618.1 142.6l15.6 -15.6"/></g>
<text x="689.2" y="146.9" font-size="35.5" letter-spacing="0.72">t=7.5, FG</text>
<line x1="587.9" y1="188.6" x2="660.9" y2="188.6" stroke="#bf00bf" stroke-width="4.2" stroke-linecap="square"/>
<text x="689.2" y="201.6" font-size="35.5" letter-spacing="0.72">t=10.0, FD</text>
<line x1="587.9" y1="243.6" x2="660.9" y2="243.6" stroke="#bf00bf" stroke-width="4.2" stroke-dasharray="14.8 6"/>
<g stroke="#bf00bf" stroke-width="2.3" fill="none"><path d="M618.1 236.7l15.6 15.6M618.1 252.3l15.6 -15.6"/></g>
<text x="689.2" y="256.6" font-size="35.5" letter-spacing="0.72">t=10.0, FG</text>
</svg></body></html>
